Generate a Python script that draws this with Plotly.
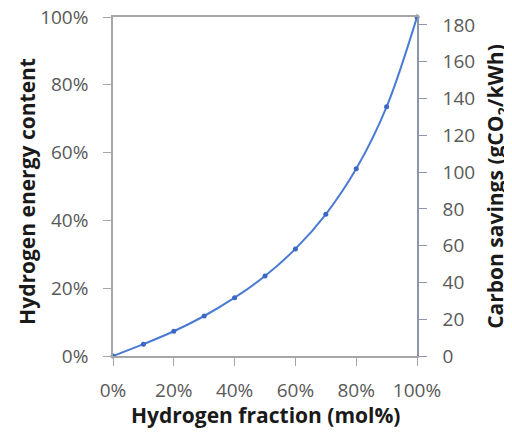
import plotly.graph_objects as go

h2_fraction = [0, 10, 20, 30, 40, 50, 60, 70, 80, 90, 100]
energy_content = [0, 3.5, 7.3, 11.8, 17.2, 23.6, 31.6, 41.8, 55.2, 73.5, 100]
carbon_savings = [0, 6.5, 13.4, 21.8, 31.7, 43.5, 58.2, 77.0, 101.6, 135.3, 184.3]

x_ticks = [0, 20, 40, 60, 80, 100]
x_ticklabels = ["0%", "20%", "40%", "60%", "80%", "100%"]
y_ticks = [0, 20, 40, 60, 80, 100]
y_ticklabels = ["0%", "20%", "40%", "60%", "80%", "100%"]
y2_ticks = [0, 20, 40, 60, 80, 100, 120, 140, 160, 180]

FONT = "Open Sans"
TICKCOL = "#595959"
AXCOL = "#a6a6a6"
TITLECOL = "#1a1a1a"
TICKSIZE = 19
LINECOL = "#4a7bd4"

fig = go.Figure()
fig.add_trace(go.Scatter(
    x=h2_fraction, y=energy_content, mode="lines+markers",
    line=dict(color=LINECOL, width=2, shape="spline"),
    marker=dict(color="#3a68c4", size=5), showlegend=False, cliponaxis=False))
fig.add_trace(go.Scatter(
    x=h2_fraction, y=carbon_savings, yaxis="y2", mode="lines",
    line=dict(color="rgba(0,0,0,0)"), hoverinfo="skip", showlegend=False))

axis_common = dict(showgrid=False, zeroline=False, showline=True, linewidth=1.5,
                   ticks="outside", ticklen=8, automargin=False,
                   ticklabeloverflow="allow",
                   tickfont=dict(size=TICKSIZE, color=TICKCOL, family=FONT))

# the page body has an 8px default margin, so the figure is sized to fit the window
fig.update_layout(
    width=504, height=425,
    margin=dict(l=105, r=95, t=9, b=77),
    paper_bgcolor="white", plot_bgcolor="white",
    font=dict(family=FONT, size=TICKSIZE, color=TICKCOL),
    xaxis=dict(range=[0, 100], tickvals=x_ticks, ticktext=x_ticklabels,
               linecolor=AXCOL, tickcolor=AXCOL, mirror=True,
               ticklabelstandoff=8, **axis_common),
    yaxis=dict(range=[0, 100], tickvals=y_ticks, ticktext=y_ticklabels,
               linecolor=AXCOL, tickcolor=AXCOL, ticklabelstandoff=11, **axis_common),
    yaxis2=dict(range=[0, 184.3], tickvals=y2_ticks, overlaying="y", side="right",
                linecolor="#8c96a8", tickcolor="#8c96a8", ticklabelstandoff=12,
                **axis_common),
    annotations=[
        dict(text="<b>Hydrogen fraction (mol%)</b>", xref="paper", yref="paper",
             x=0.503, y=-0.174, xanchor="center", yanchor="middle", showarrow=False,
             font=dict(size=21, color=TITLECOL, family=FONT)),
        dict(text="<b>Hydrogen energy content</b>", xref="paper", yref="paper",
             x=-0.283, y=0.487, xanchor="center", yanchor="middle", showarrow=False,
             textangle=-90, font=dict(size=21, color=TITLECOL, family=FONT)),
        dict(text="<b>Carbon savings (gCO<sub>2</sub>/kWh)</b>", xref="paper", yref="paper",
             x=1.262, y=0.501, xanchor="center", yanchor="middle", showarrow=False,
             textangle=-90, font=dict(size=21, color=TITLECOL, family=FONT)),
    ],
)

fig.write_html("out.html")
